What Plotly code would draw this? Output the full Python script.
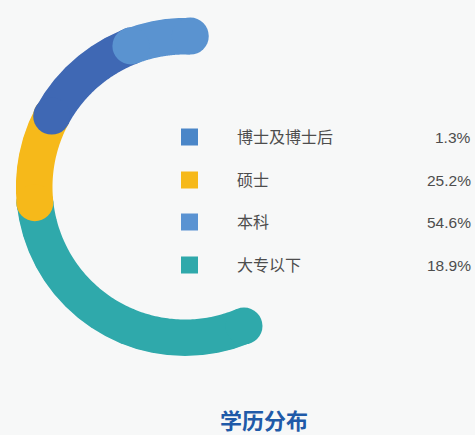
import numpy as np
import plotly.graph_objects as go

# Data
categories = ["博士及博士后", "硕士", "本科", "大专以下"]
percent_labels = ["1.3%", "25.2%", "54.6%", "18.9%"]
legend_colors = ["#4a86c8", "#f6b91a", "#5a93d2", "#2fa9ab"]

# arc segments as drawn (degrees, counterclockwise from east), drawing order bottom->top
arc_names = ["大专以下", "硕士", "本科-dark", "博士"]
arc_start = [186, 152, 111, 88]
arc_end = [293, 186, 152, 111]
arc_colors = ["#2fa9ab", "#f6b91a", "#3f68b4", "#5a93d0"]

W, H = 475, 435
cx, cy, R = 185, 187, 151
band = 37
rmax = 1.12

fig = go.Figure()
for s, e, c in zip(arc_start, arc_end, arc_colors):
    th = np.linspace(s, e, 120)
    fig.add_trace(go.Scatterpolar(r=np.ones_like(th), theta=th, mode="lines",
                                  line=dict(color=c, width=band), hoverinfo="skip",
                                  cliponaxis=False, showlegend=False))
    fig.add_trace(go.Scatterpolar(r=[1, 1], theta=[s, e], mode="markers",
                                  marker=dict(color=c, size=band, line=dict(width=0)),
                                  hoverinfo="skip", cliponaxis=False, showlegend=False))

Rp = R * rmax
fig.update_layout(
    width=W, height=H, margin=dict(l=0, r=0, t=0, b=0),
    paper_bgcolor="#f7f8f8", plot_bgcolor="#f7f8f8",
    polar=dict(
        domain=dict(x=[(cx - Rp) / W, (cx + Rp) / W],
                    y=[(H - cy - Rp) / H, (H - cy + Rp) / H]),
        bgcolor="rgba(0,0,0,0)",
        radialaxis=dict(visible=False, range=[0, rmax]),
        angularaxis=dict(visible=False, rotation=0, direction="counterclockwise"),
    ),
)

row_y = [137, 180, 222, 265]
font_fam = "Liberation Sans, Noto Sans CJK SC, sans-serif"
for i, (cat, pct, col) in enumerate(zip(categories, percent_labels, legend_colors)):
    y = row_y[i]
    fig.add_shape(type="rect", xref="paper", yref="paper",
                  x0=181 / W, x1=198 / W, y0=(H - y - 8.5) / H, y1=(H - y + 8.5) / H,
                  fillcolor=col, line=dict(width=0))
    fig.add_annotation(x=235 / W, y=(H - y) / H, xref="paper", yref="paper",
                       text=cat, showarrow=False, xanchor="left", yanchor="middle",
                       font=dict(family=font_fam, size=16, color="#4d4d4d"))
    fig.add_annotation(x=473 / W, y=(H - y) / H, xref="paper", yref="paper",
                       text=pct, showarrow=False, xanchor="right", yanchor="middle",
                       font=dict(family=font_fam, size=15.5, color="#4d4d4d"))

fig.add_annotation(x=264 / W, y=(H - 419) / H, xref="paper", yref="paper",
                   text="<b>学历分布</b>", showarrow=False, xanchor="center", yanchor="middle",
                   font=dict(family="Noto Sans CJK SC, sans-serif", size=22, color="#1f5aa8"))

fig.write_html("out.html", config={"displayModeBar": False},
               post_script="document.body.style.margin='0';document.body.style.overflow='hidden';")
